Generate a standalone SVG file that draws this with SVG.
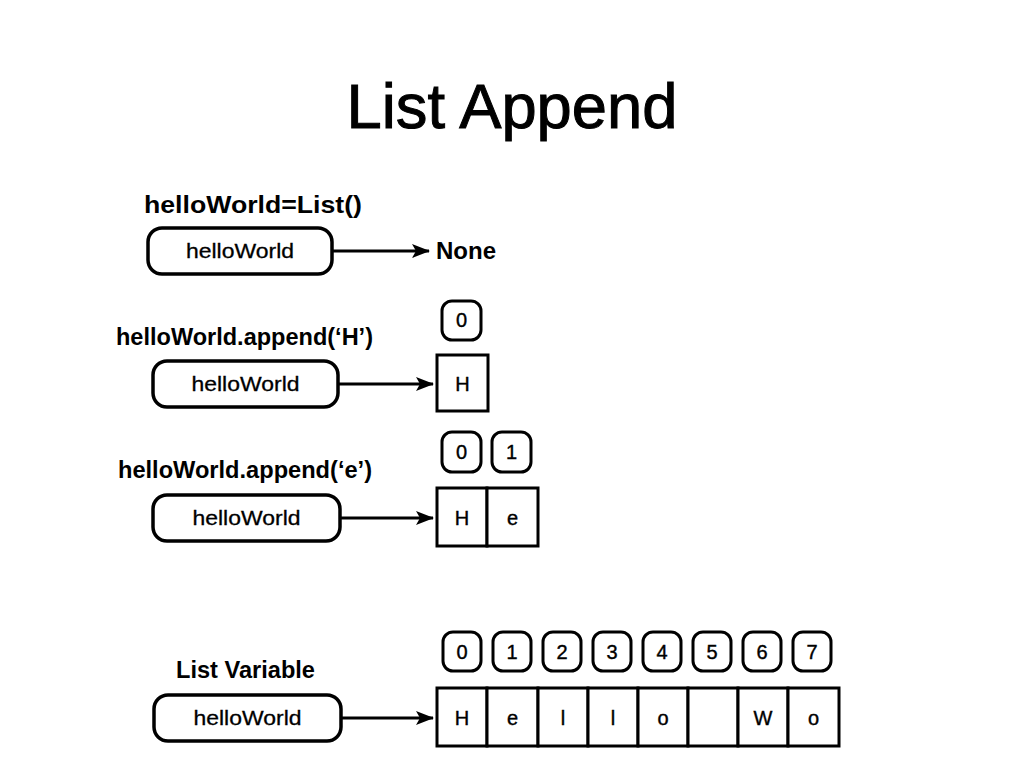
<svg xmlns="http://www.w3.org/2000/svg" width="1024" height="768" viewBox="0 0 1024 768">
<defs>
<marker id="ah" markerWidth="18" markerHeight="14" refX="17" refY="7" orient="auto" markerUnits="userSpaceOnUse">
<path d="M0,0 L18,7 L0,14 L4,7 Z" fill="#000"/>
</marker>
</defs>
<style>
text{font-family:"Liberation Sans",Arial,sans-serif;fill:#000}
.title{font-size:63px;stroke:#000;stroke-width:1}
.lbl{font-size:23px;font-weight:bold}
.pt{font-size:21px;text-anchor:middle;stroke:#000;stroke-width:0.3}
.ct{font-size:20px;text-anchor:middle;stroke:#000;stroke-width:0.4}
.pill{fill:#fff;stroke:#000;stroke-width:3.5}
.idx{fill:#fff;stroke:#000;stroke-width:3}
.cell{fill:#fff;stroke:#000;stroke-width:3}
.con{stroke:#000;stroke-width:3;fill:none;marker-end:url(#ah)}
</style>
<rect width="1024" height="768" fill="#fff"/>
<text class="title" x="512" y="128" text-anchor="middle" textLength="331" lengthAdjust="spacingAndGlyphs">List Append</text>

<text class="lbl" x="144" y="213" textLength="218" lengthAdjust="spacingAndGlyphs">helloWorld=List()</text>
<text class="lbl" x="116" y="345" textLength="257" lengthAdjust="spacingAndGlyphs">helloWorld.append(‘H’)</text>
<text class="lbl" x="118" y="478" textLength="254" lengthAdjust="spacingAndGlyphs">helloWorld.append(‘e’)</text>
<text class="lbl" x="176" y="678" textLength="139" lengthAdjust="spacingAndGlyphs">List Variable</text>

<g id="connectors">
<line class="con" x1="333" y1="251" x2="429" y2="251"/>
<line class="con" x1="339" y1="384" x2="433" y2="384"/>
<line class="con" x1="341" y1="518" x2="433" y2="518"/>
<line class="con" x1="342" y1="718" x2="433" y2="718"/>
</g>

<g id="var1"><rect class="pill" x="148" y="228" width="184" height="46" rx="14"/><text class="pt" x="240" y="258" textLength="108" lengthAdjust="spacingAndGlyphs">helloWorld</text></g>
<g id="none"><text class="lbl" x="436" y="259" textLength="60" lengthAdjust="spacingAndGlyphs">None</text></g>

<g id="var2"><rect class="pill" x="153" y="361" width="185" height="46" rx="14"/><text class="pt" x="245.5" y="391" textLength="108" lengthAdjust="spacingAndGlyphs">helloWorld</text></g>
<g id="list2">
<rect class="idx" x="442" y="301" width="39" height="39" rx="10"/><text class="ct" x="461.5" y="327">0</text>
<rect class="cell" x="437" y="355" width="51" height="56"/><text class="ct" x="462.5" y="391">H</text>
</g>

<g id="var3"><rect class="pill" x="153" y="495" width="187" height="46" rx="14"/><text class="pt" x="246.5" y="525" textLength="108" lengthAdjust="spacingAndGlyphs">helloWorld</text></g>
<g id="list3">
<rect class="idx" x="442" y="432" width="39" height="40" rx="10"/><text class="ct" x="461.5" y="459">0</text>
<rect class="idx" x="492" y="432" width="39" height="40" rx="10"/><text class="ct" x="511.5" y="459">1</text>
<rect class="cell" x="437" y="488" width="50" height="58"/><text class="ct" x="462" y="525">H</text>
<rect class="cell" x="487" y="488" width="51" height="58"/><text class="ct" x="512.5" y="525">e</text>
</g>

<g id="var4"><rect class="pill" x="154" y="695" width="187" height="46" rx="14"/><text class="pt" x="247.5" y="725" textLength="108" lengthAdjust="spacingAndGlyphs">helloWorld</text></g>
<g id="list4">
<rect class="idx" x="443" y="632" width="38" height="39" rx="10"/><text class="ct" x="462" y="659">0</text>
<rect class="idx" x="493" y="632" width="38" height="39" rx="10"/><text class="ct" x="512" y="659">1</text>
<rect class="idx" x="543" y="632" width="38" height="39" rx="10"/><text class="ct" x="562" y="659">2</text>
<rect class="idx" x="593" y="632" width="38" height="39" rx="10"/><text class="ct" x="612" y="659">3</text>
<rect class="idx" x="643" y="632" width="38" height="39" rx="10"/><text class="ct" x="662" y="659">4</text>
<rect class="idx" x="693" y="632" width="38" height="39" rx="10"/><text class="ct" x="712" y="659">5</text>
<rect class="idx" x="743" y="632" width="38" height="39" rx="10"/><text class="ct" x="762" y="659">6</text>
<rect class="idx" x="793" y="632" width="38" height="39" rx="10"/><text class="ct" x="812" y="659">7</text>
<rect class="cell" x="437" y="688" width="50" height="58"/><text class="ct" x="462" y="725">H</text>
<rect class="cell" x="487" y="688" width="51" height="58"/><text class="ct" x="512.5" y="725">e</text>
<rect class="cell" x="538" y="688" width="50" height="58"/><text class="ct" x="563" y="725">l</text>
<rect class="cell" x="588" y="688" width="50" height="58"/><text class="ct" x="613" y="725">l</text>
<rect class="cell" x="638" y="688" width="50" height="58"/><text class="ct" x="663" y="725">o</text>
<rect class="cell" x="688" y="688" width="50" height="58"/>
<rect class="cell" x="738" y="688" width="50" height="58"/><text class="ct" x="763" y="725">W</text>
<rect class="cell" x="788" y="688" width="51" height="58"/><text class="ct" x="813.5" y="725">o</text>
</g>
</svg>
